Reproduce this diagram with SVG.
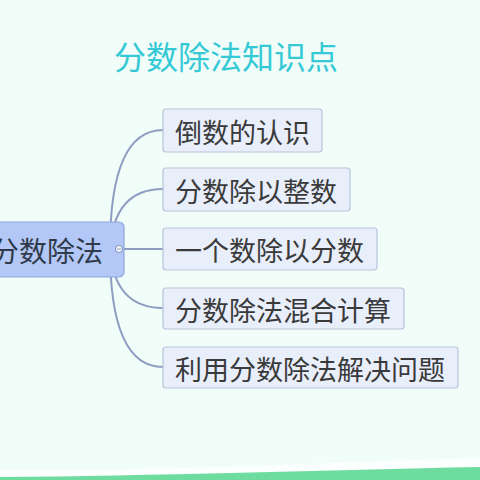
<svg xmlns="http://www.w3.org/2000/svg" width="480" height="480" viewBox="0 0 480 480">
<style>
.t{font-family:"Noto Sans CJK SC","Noto Sans",sans-serif;}
.child rect{fill:#e9eefb;stroke:#b9c3da;stroke-width:1.2}
.child text{fill:#3a3a3a;font-size:27px}
.con path{fill:none;stroke:#8e9dc2;stroke-width:2}
</style>
<rect x="0" y="0" width="480" height="480" fill="#f1fdf9"/>
<path d="M0,470 C150,472 330,462 480,458 L480,480 L0,480 Z" fill="#fbfffd"/>
<path d="M0,477 C150,476 330,470 480,467 L480,480 L0,480 Z" fill="#6fdc9f"/>
<text class="t" x="226" y="55" font-size="32" fill="#35c9d6" text-anchor="middle" dominant-baseline="central">分数除法知识点</text>
<g id="connectors" class="con">
<path d="M110,249 Q110,130 163,130"/>
<path d="M110,249 Q114,189 163,189"/>
<path d="M110,249 L163,249"/>
<path d="M110,249 Q114,308 163,308"/>
<path d="M110,249 Q110,367 163,367"/>
</g>
<g id="root">
<rect x="-10" y="222" width="134" height="55" rx="5" fill="#b3c8f6" stroke="#8fa6d9" stroke-width="1.2"/>
<text class="t" x="-9" y="250" font-size="28" fill="#2f3a4a" dominant-baseline="central">分数除法</text>
<circle cx="119" cy="249" r="3.5" fill="#f4f6fb" stroke="#8e9dc2" stroke-width="1.2"/>
<line x1="117" y1="249" x2="121" y2="249" stroke="#8e9dc2" stroke-width="1"/>
</g>
<g id="n1" class="child"><rect x="163" y="109" width="159" height="43" rx="3"/><text class="t" x="175" y="131" dominant-baseline="central">倒数的认识</text></g>
<g id="n2" class="child"><rect x="163" y="168" width="187" height="43" rx="3"/><text class="t" x="175" y="190" dominant-baseline="central">分数除以整数</text></g>
<g id="n3" class="child"><rect x="163" y="228" width="214" height="42" rx="3"/><text class="t" x="175" y="249" dominant-baseline="central">一个数除以分数</text></g>
<g id="n4" class="child"><rect x="163" y="288" width="241" height="41" rx="3"/><text class="t" x="175" y="309" dominant-baseline="central">分数除法混合计算</text></g>
<g id="n5" class="child"><rect x="163" y="347" width="295" height="41" rx="3"/><text class="t" x="175" y="368" dominant-baseline="central">利用分数除法解决问题</text></g>
</svg>
